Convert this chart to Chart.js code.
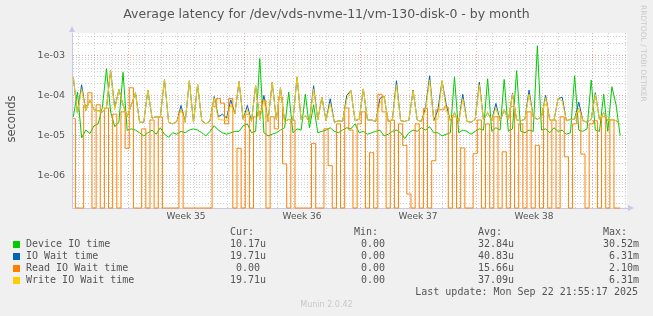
<!DOCTYPE html>
<html>
<head>
<meta charset="utf-8">
<title>Average latency by month</title>
<script src="https://cdn.jsdelivr.net/npm/chart.js@4.4.1/dist/chart.umd.min.js"></script>
<style>
  body { margin: 0; background: #f0f0f0; }
  #wrap { position: relative; width: 653px; height: 316px; overflow: hidden; }
  #chartCanvas { position: absolute; left: 0; top: 0; }
  .txt { position: absolute; white-space: pre; color: #555; font-family: "DejaVu Sans", sans-serif; }
  .mono { position: absolute; white-space: pre; color: #555; font: 10px/12px "DejaVu Sans Mono", monospace; }
  .box { position: absolute; width: 7px; height: 7px; }
</style>
</head>
<body>
<div id="wrap">
  <canvas id="chartCanvas" width="653" height="316"></canvas>
  <div class="txt" style="left:0;width:653px;top:6px;text-align:center;font-size:12.5px;line-height:16px;">Average latency for /dev/vds-nvme-11/vm-130-disk-0 - by month</div>
  <div class="txt" style="left:-19px;width:60px;top:112px;line-height:14px;text-align:center;font-size:11.5px;transform:rotate(-90deg);">seconds</div>
  <div class="txt" style="left:639px;top:5px;font-size:7.5px;line-height:9px;color:#c8c8c8;writing-mode:vertical-rl;">RRDTOOL / TOBI OETIKER</div>
  <div class="txt" style="left:0;width:653px;top:300px;text-align:center;font-size:8px;line-height:10px;color:#c8c8c8;">Munin 2.0.42</div>
  <div id="legend"></div>
</div>
<script>
// Series names, colours and the legend statistics as printed under the graph
const seriesNames = ['Device IO time', 'IO Wait time', 'Read IO Wait time', 'Write IO Wait time'];
const seriesColors = ['#00cc00', '#0066b3', '#ff8000', '#ffcc00'];
const curText = ['10.17u', '19.71u', ' 0.00 ', '19.71u'];
const minText = [' 0.00 ', ' 0.00 ', ' 0.00 ', ' 0.00 '];
const avgText = ['32.84u', '40.83u', '15.66u', '37.09u'];
const maxText = ['30.52m', ' 6.31m', ' 2.10m', ' 6.31m'];
const lastUpdate = 'Last update: Mon Sep 22 21:55:17 2025';

// Axis ticks
const weekTickDays = [3.5, 10.5, 17.5, 24.5];
const weekLabels = ['Week 35', 'Week 36', 'Week 37', 'Week 38'];
const yTickValues = [1e-6, 1e-5, 1e-4, 1e-3];
const yTickLabels = ['1e-06', '1e-05', '1e-04', '1e-03'];

// One sample every 6 hours, the first one 3.3 days before week 35 starts (day 0)
const startDay = -3.3;
const stepDay = 0.25;

// Values in microseconds (0 = nothing, drawn on the floor)
const deviceIoUs = [
  30, 125, 9, 14, 11.5, 18, 20, 51, 480, 40,
  17, 22, 390, 13.7, 15, 14, 12, 10, 12, 14,
  11, 16, 11, 9.3, 12, 11, 13, 12, 14, 15,
  14, 12, 10, 13, 18, 14, 12, 11, 12, 13,
  13, 18, 20, 12, 13, 860, 12, 10, 11, 12,
  14, 16, 125, 12, 15, 14, 110, 16, 60, 12,
  13, 14, 16, 13, 12, 14, 16, 15, 20, 12,
  13, 11, 12, 13, 14, 10, 11, 13, 14, 12,
  8.6, 12, 14, 13, 16, 14, 17, 12, 12, 10,
  11, 12, 300, 12, 14, 13, 11, 13, 15, 14,
  270, 13, 16, 14, 260, 13, 15, 430, 13, 12,
  14, 13, 1800, 14, 15, 12, 16, 13, 14, 11,
  12, 320, 14, 13, 15, 250, 14, 13, 110, 13,
  170, 60, 10.17
];
const ioWaitUs = [
  290, 37, 190, 43, 80, 45, 43, 40, 51, 430,
  50, 145, 60, 30, 60, 120, 22, 22, 140, 28,
  30, 30, 260, 22, 20, 23, 58, 22, 240, 22,
  195, 24, 20, 24, 97, 30, 35, 28, 80, 36,
  230, 26, 58, 23, 180, 26, 103, 23, 220, 26,
  160, 23, 26, 24, 300, 25, 32, 23, 180, 25,
  94, 24, 85, 22, 24, 23, 103, 137, 24, 26,
  150, 25, 25, 23, 86, 100, 23, 25, 240, 24,
  23, 25, 140, 25, 23, 49, 320, 24, 45, 240,
  60, 24, 38, 22, 110, 23, 22, 26, 220, 25,
  38, 24, 65, 24, 45, 25, 115, 25, 24, 26,
  140, 30, 26, 30, 103, 25, 24, 86, 93, 24,
  26, 26, 70, 24, 22, 26, 120, 25, 38, 24,
  26, 24, 19.71
];
const readIoUs = [
  27, 0, 0, 58, 120, 0, 60, 0, 50, 0,
  35, 0, 40, 4.9, 160, 0, 0, 15, 0, 25,
  0, 30, 0, 0, 0, 0, 40, 0, 0, 0,
  0, 0, 0, 0, 55, 86, 66, 20, 86, 0,
  4.9, 0, 35, 0, 30, 40, 77, 0, 30, 15,
  93, 2, 0, 25, 0, 0, 0, 0, 6.5, 0,
  0, 15, 1.8, 0, 20, 0, 50, 14, 0, 20,
  40, 0, 3.8, 0, 110, 40, 0, 25, 0, 20,
  5.8, 0.35, 0, 20, 0, 49, 0, 2.4, 45, 45,
  53, 0, 30, 0, 5, 0, 0, 3.6, 25, 0,
  20, 0, 30, 0, 4, 0, 55, 0, 20, 0,
  40, 0, 5.8, 0, 60, 0, 25, 0, 30, 3,
  0, 20, 40, 3.5, 0, 20, 24, 0, 30, 0,
  25, 0, 0
];
const writeIoUs = [
  290, 37, 150, 43, 80, 45, 43, 40, 51, 430,
  45, 145, 60, 30, 60, 120, 22, 22, 140, 28,
  30, 30, 260, 22, 20, 23, 45, 22, 240, 22,
  195, 24, 20, 24, 90, 26, 25, 24, 60, 36,
  230, 26, 45, 23, 180, 26, 80, 23, 220, 26,
  160, 23, 26, 24, 300, 25, 32, 23, 150, 25,
  94, 24, 65, 22, 24, 23, 80, 137, 24, 26,
  150, 25, 25, 23, 65, 100, 23, 25, 190, 24,
  23, 25, 135, 25, 23, 42, 250, 24, 26, 240,
  45, 24, 38, 22, 85, 23, 22, 26, 190, 25,
  38, 24, 50, 24, 45, 25, 110, 25, 24, 26,
  110, 30, 26, 30, 90, 25, 24, 86, 75, 24,
  26, 26, 50, 24, 22, 26, 110, 25, 38, 24,
  26, 24, 19.71
];

const X_MIN = -3.38, X_MAX = 30.11;
const Y_MIN = 1.57e-7, Y_MAX = 3.76e-3;
const AXIS = 'rgb(200,200,235)';
const MAJOR = 'rgba(225,110,110,0.6)';
const MINOR = 'rgba(150,150,150,0.45)';
const TEXT = '#555';

const toPoints = arr => arr.map((v, i) => ({ x: startDay + i * stepDay, y: v > 0 ? v * 1e-6 : Y_MIN }));
const series = [deviceIoUs, ioWaitUs, readIoUs, writeIoUs];

// legend block
const legend = document.getElementById('legend');
function put(cls, text, left, top, extra) {
  const d = document.createElement('div');
  d.className = cls;
  d.textContent = text;
  d.style.left = left + 'px';
  d.style.top = top + 'px';
  if (extra) Object.assign(d.style, extra);
  legend.appendChild(d);
}
const cols = [230, 355, 478, 603];
['Cur:', 'Min:', 'Avg:', 'Max:'].forEach((h, c) => put('mono', h, c === 1 ? 354 : cols[c], 226));
seriesNames.forEach((name, k) => {
  const top = 238 + k * 12;
  const b = document.createElement('div');
  b.className = 'box';
  b.style.left = '13px';
  b.style.top = (top + 2.5) + 'px';
  b.style.background = seriesColors[k];
  legend.appendChild(b);
  put('mono', name, 26, top);
  put('mono', curText[k], cols[0], top);
  put('mono', minText[k], cols[1], top);
  put('mono', avgText[k], cols[2], top);
  put('mono', maxText[k], cols[3], top);
});
put('mono', lastUpdate, 0, 286, { left: 'auto', right: '15px' });

const frame = {
  id: 'frame',
  beforeDraw(chart) {
    const { ctx, chartArea: a } = chart;
    ctx.save();
    ctx.fillStyle = '#ffffff';
    ctx.fillRect(a.left, a.top, a.right - a.left, a.bottom - a.top);
    ctx.restore();
  },
  afterDraw(chart) {
    const { ctx, chartArea: a } = chart;
    ctx.save();
    ctx.fillStyle = AXIS;
    ctx.beginPath();
    ctx.moveTo(a.left - 3, a.top - 1);
    ctx.lineTo(a.left + 3, a.top - 1);
    ctx.lineTo(a.left, a.top - 7);
    ctx.closePath();
    ctx.fill();
    ctx.beginPath();
    ctx.moveTo(a.right + 1, a.bottom - 3);
    ctx.lineTo(a.right + 1, a.bottom + 3);
    ctx.lineTo(a.right + 7, a.bottom);
    ctx.closePath();
    ctx.fill();
    ctx.restore();
  }
};

Chart.defaults.font.family = '"DejaVu Sans", sans-serif';

const ctx = document.getElementById('chartCanvas').getContext('2d');
const chart = new Chart(ctx, {
  type: 'line',
  data: {
    datasets: seriesNames.map((name, k) => ({
      label: name,
      data: toPoints(series[k]),
      borderColor: seriesColors[k],
      borderWidth: 1,
      pointRadius: 0,
      fill: false,
      tension: 0,
      stepped: k === 2 ? 'middle' : false,
      order: 4 - k,
      clip: 1
    }))
  },
  options: {
    responsive: false,
    animation: false,
    layout: { padding: { left: 0, right: 26, top: 33, bottom: 88 } },
    plugins: { legend: { display: false }, tooltip: { enabled: false } },
    scales: {
      x: {
        type: 'linear',
        min: X_MIN,
        max: X_MAX,
        afterFit: s => { s.height = 20; },
        afterBuildTicks: s => {
          const t = [];
          for (let d = Math.ceil(X_MIN); d <= Math.floor(X_MAX); d++) t.push({ value: d });
          weekTickDays.forEach(v => t.push({ value: v }));
          t.sort((p, q) => p.value - q.value);
          s.ticks = t;
        },
        grid: {
          drawTicks: false,
          lineWidth: 1,
          color: c => {
            const v = c.tick ? c.tick.value : 0;
            if (!Number.isInteger(v)) return 'rgba(0,0,0,0)';
            return v % 7 === 0 ? MAJOR : MINOR;
          }
        },
        border: { color: AXIS, width: 1, dash: [1, 2] },
        ticks: {
          autoSkip: false,
          maxRotation: 0,
          padding: 3,
          color: TEXT,
          font: { size: 9 },
          callback: v => {
            const i = weekTickDays.indexOf(v);
            return i >= 0 ? weekLabels[i] : '';
          }
        }
      },
      y: {
        type: 'logarithmic',
        min: Y_MIN,
        max: Y_MAX,
        afterFit: s => { s.width = 72; },
        afterBuildTicks: s => {
          const t = [];
          for (let e = -7; e <= -3; e++) {
            for (let k = 1; k <= 9; k++) {
              const v = k * Math.pow(10, e);
              if (v > Y_MIN && v < Y_MAX) t.push({ value: v, major: k === 1 });
            }
          }
          s.ticks = t;
        },
        grid: {
          drawTicks: false,
          lineWidth: 1,
          color: c => (c.tick && c.tick.major ? MAJOR : MINOR)
        },
        border: { color: AXIS, width: 1, dash: [1, 2] },
        ticks: {
          autoSkip: false,
          padding: 7,
          color: TEXT,
          font: { size: 9.5 },
          callback: v => {
            const i = yTickValues.findIndex(t => Math.abs(Math.log10(t) - Math.log10(v)) < 1e-9);
            return i >= 0 ? yTickLabels[i] : '';
          }
        }
      }
    }
  },
  plugins: [frame]
});
</script>
</body>
</html>
